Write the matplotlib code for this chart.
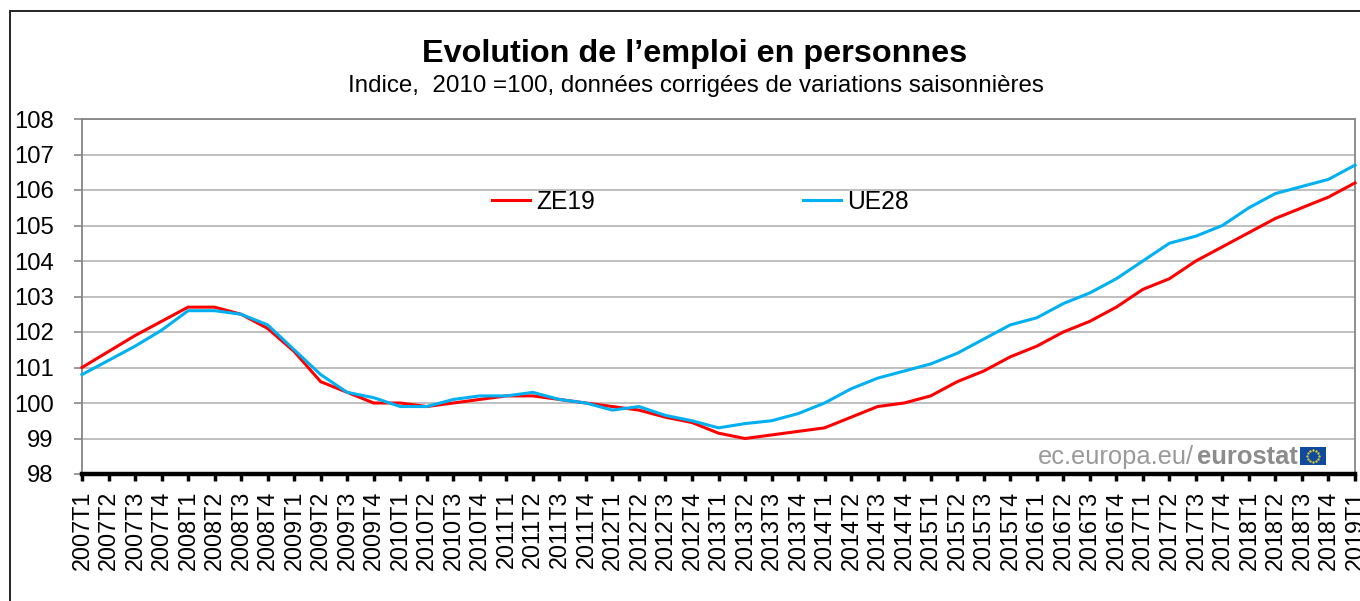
import numpy as np
import matplotlib
matplotlib.use("Agg")
import matplotlib.pyplot as plt
from matplotlib.patches import Rectangle

annees = list(range(2007, 2019))
trimestres = [f"{a}T{t}" for a in annees for t in (1, 2, 3, 4)] + ["2019T1"]

ze19 = [101.0, 101.45, 101.9, 102.3, 102.7, 102.7, 102.5, 102.1, 101.45, 100.6,
        100.3, 100.0, 100.0, 99.9, 100.0, 100.1, 100.2, 100.2, 100.1, 100.0,
        99.9, 99.8, 99.6, 99.45, 99.15, 99.0, 99.1, 99.2, 99.3, 99.6,
        99.9, 100.0, 100.2, 100.6, 100.9, 101.3, 101.6, 102.0, 102.3, 102.7,
        103.2, 103.5, 104.0, 104.4, 104.8, 105.2, 105.5, 105.8, 106.2]
ue28 = [100.8, 101.2, 101.6, 102.05, 102.6, 102.6, 102.5, 102.2, 101.5, 100.8,
        100.3, 100.15, 99.9, 99.9, 100.1, 100.2, 100.2, 100.3, 100.1, 100.0,
        99.8, 99.9, 99.65, 99.5, 99.3, 99.42, 99.5, 99.7, 100.0, 100.4,
        100.7, 100.9, 101.1, 101.4, 101.8, 102.2, 102.4, 102.8, 103.1, 103.5,
        104.0, 104.5, 104.7, 105.0, 105.5, 105.9, 106.1, 106.3, 106.7]
graduations = list(range(98, 109))

plt.rcParams["font.family"] = ["Liberation Sans", "DejaVu Sans"]

W, H = 1360, 601
fig = plt.figure(figsize=(W / 100, H / 100), dpi=100)
ax = fig.add_axes([82 / W, 1 - 474 / H, (1355 - 82) / W, (474 - 119) / H])

x = np.arange(len(trimestres))
ax.plot(x, ze19, color="#FF0000", lw=2.2, label="ZE19", clip_on=False, zorder=3)
ax.plot(x, ue28, color="#00B0F0", lw=2.2, label="UE28", clip_on=False, zorder=4)

ax.set_xlim(0, len(trimestres) - 1)
ax.set_ylim(98, 108)
ax.set_yticks(graduations)
ax.set_xticks(x)
ax.set_xticklabels(trimestres, rotation=90)
ax.grid(axis="y", color="#BFBFBF", lw=1.4)
ax.set_axisbelow(True)
ax.tick_params(axis="y", labelsize=17.2, length=6, width=1.2, color="#868686", pad=14.5)
ax.tick_params(axis="x", labelsize=16.8, length=5, width=2.5, color="black", pad=7)

for s in ("left", "right", "top"):
    ax.spines[s].set_color("#868686")
    ax.spines[s].set_linewidth(1.3)
ax.spines["bottom"].set_color("black")
ax.spines["bottom"].set_linewidth(3.2)

leg = ax.legend(loc="upper left", bbox_to_anchor=(0.322, 0.8), ncol=2, frameon=False,
                fontsize=17.7, handlelength=1.55, handletextpad=0.26,
                columnspacing=8.45, borderpad=0, borderaxespad=0)

# titre
fig.text(694.5 / W, 1 - 54 / H, "Evolution de l’emploi en personnes", fontsize=23.3,
         fontweight="bold", ha="center", va="center")
fig.text(696 / W, 1 - 86 / H, "Indice,  2010 =100, données corrigées de variations saisonnières",
         fontsize=17.35, ha="center", va="center")

# cadre du graphique
fig.add_artist(Rectangle((10 / W, -0.01), 1.1, 1 - 11 / H + 0.01, transform=fig.transFigure,
                         fill=False, ec="#222222", lw=1.4))

# logo eurostat
fig.text(1038 / W, 1 - 464 / H, "ec.europa.eu/", fontsize=18.4, color="#9A9A9A",
         ha="left", va="baseline")
fig.text(1197 / W, 1 - 464 / H, "eurostat", fontsize=18.4, color="#8C8C8C",
         fontweight="bold", ha="left", va="baseline")
etoiles = fig.add_axes([1300 / W, 1 - 465 / H, 26 / W, 18 / H], facecolor="#0F4A9E")
etoiles.set_xticks([])
etoiles.set_yticks([])
for s in etoiles.spines.values():
    s.set_visible(False)
etoiles.set_xlim(0, 26)
etoiles.set_ylim(0, 18)
angles = np.arange(12) * np.pi / 6
etoiles.scatter(13 + 6 * np.cos(angles), 9 + 6 * np.sin(angles), s=3, color="#D8C92A", lw=0)

fig.savefig("out.png", dpi=100)
